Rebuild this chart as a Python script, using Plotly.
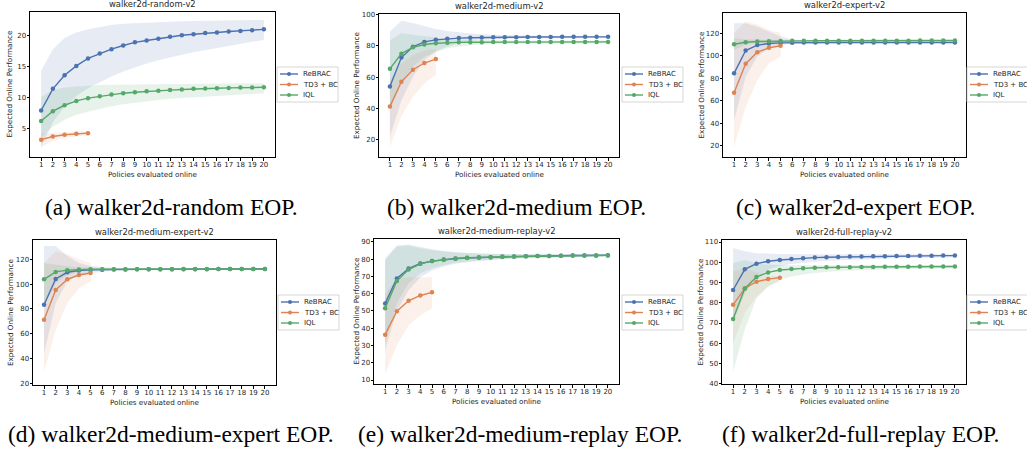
import plotly.graph_objects as go

W, H = 1027, 451

steps = list(range(1, 21))
steps_td3 = list(range(1, 6))
tick_labels = [str(s) for s in steps]
series_names = ["ReBRAC", "TD3 + BC", "IQL"]

# ---------------- walker2d-random-v2 ----------------
random_rebrac_mean = [7.9, 11.4, 13.6, 15.1, 16.3, 17.1, 17.8, 18.4, 18.9, 19.2, 19.5, 19.8, 20.05, 20.2, 20.4, 20.5, 20.65, 20.75, 20.85, 21.0]
random_rebrac_upper = [14.3, 17.8, 19.6, 20.5, 21.0, 21.4, 21.7, 21.9, 22.0, 22.1, 22.2, 22.25, 22.3, 22.35, 22.4, 22.4, 22.45, 22.45, 22.5, 22.5]
random_rebrac_lower = [2.0, 6.0, 8.5, 10.2, 11.5, 12.5, 13.4, 14.2, 14.9, 15.5, 16.0, 16.5, 16.9, 17.3, 17.7, 18.0, 18.3, 18.6, 19.0, 19.3]
random_td3_mean = [3.2, 3.7, 4.0, 4.15, 4.25]
random_td3_upper = [4.2, 4.3, 4.5, 4.6, 4.6]
random_td3_lower = [2.0, 3.0, 3.5, 3.75, 3.9]
random_iql_mean = [6.2, 7.8, 8.75, 9.45, 9.9, 10.2, 10.5, 10.7, 10.85, 11.0, 11.1, 11.2, 11.3, 11.4, 11.45, 11.5, 11.55, 11.6, 11.62, 11.65]
random_iql_upper = [10.1, 11.2, 11.6, 11.8, 11.9, 12.0, 12.05, 12.1, 12.1, 12.15, 12.15, 12.2, 12.2, 12.2, 12.25, 12.25, 12.25, 12.3, 12.3, 12.3]
random_iql_lower = [3.6, 5.3, 6.4, 7.2, 7.7, 8.2, 8.6, 8.9, 9.2, 9.4, 9.6, 9.8, 9.95, 10.1, 10.2, 10.3, 10.4, 10.5, 10.6, 10.7]

# ---------------- walker2d-medium-v2 ----------------
medium_rebrac_mean = [54.0, 72.5, 79.4, 82.5, 83.8, 84.5, 84.9, 85.1, 85.3, 85.4, 85.5, 85.5, 85.6, 85.6, 85.6, 85.7, 85.7, 85.7, 85.7, 85.7]
medium_rebrac_upper = [89.0, 96.0, 94.5, 92.5, 90.8, 89.5, 88.5, 87.8, 87.3, 87.0, 86.8, 86.6, 86.5, 86.4, 86.3, 86.3, 86.2, 86.2, 86.2, 86.2]
medium_rebrac_lower = [22.0, 45.0, 60.0, 71.0, 76.5, 79.5, 81.5, 83.0, 83.7, 84.1, 84.4, 84.6, 84.7, 84.8, 84.8, 84.9, 84.9, 85.0, 85.0, 85.0]
medium_td3_mean = [41.3, 57.0, 64.7, 69.0, 71.5]
medium_td3_upper = [58.0, 69.0, 74.0, 77.0, 78.0]
medium_td3_lower = [15.5, 35.0, 47.5, 56.0, 61.5]
medium_iql_mean = [65.3, 75.0, 79.0, 80.8, 81.6, 82.0, 82.2, 82.3, 82.3, 82.4, 82.4, 82.4, 82.4, 82.5, 82.5, 82.5, 82.5, 82.5, 82.5, 82.5]
medium_iql_upper = [83.6, 88.0, 87.0, 86.0, 85.0, 84.3, 83.9, 83.7, 83.6, 83.5, 83.5, 83.4, 83.4, 83.4, 83.4, 83.4, 83.4, 83.4, 83.4, 83.4]
medium_iql_lower = [39.0, 56.0, 67.0, 73.0, 76.0, 78.3, 79.5, 80.4, 80.8, 81.1, 81.3, 81.4, 81.5, 81.5, 81.6, 81.6, 81.6, 81.7, 81.7, 81.7]

# ---------------- walker2d-expert-v2 ----------------
expert_rebrac_mean = [84.5, 104.8, 109.6, 111.0, 111.6, 111.8, 111.9, 112.0, 112.0, 112.0, 112.0, 112.0, 112.0, 112.0, 112.0, 112.0, 112.0, 112.0, 112.0, 112.0]
expert_rebrac_upper = [129.0, 129.0, 126.0, 122.0, 117.5, 114.5, 113.5, 113.0, 112.8, 112.7, 112.6, 112.6, 112.6, 112.5, 112.5, 112.5, 112.5, 112.5, 112.5, 112.5]
expert_rebrac_lower = [42.7, 81.5, 99.4, 107.0, 110.0, 110.8, 111.1, 111.3, 111.4, 111.4, 111.5, 111.5, 111.5, 111.5, 111.5, 111.5, 111.5, 111.5, 111.5, 111.5]
expert_td3_mean = [67.2, 93.1, 103.3, 107.2, 109.0]
expert_td3_upper = [120.3, 130.7, 128.0, 123.0, 120.3]
expert_td3_lower = [19.0, 54.6, 78.5, 93.4, 99.4]
expert_iql_mean = [110.4, 112.2, 112.8, 113.1, 113.3, 113.4, 113.4, 113.5, 113.5, 113.5, 113.5, 113.6, 113.6, 113.6, 113.6, 113.6, 113.7, 113.7, 113.7, 113.7]
expert_iql_upper = [115.8, 114.8, 114.5, 114.4, 114.4, 114.4, 114.4, 114.4, 114.4, 114.4, 114.4, 114.4, 114.4, 114.4, 114.4, 114.5, 114.5, 114.5, 114.5, 114.5]
expert_iql_lower = [105.5, 109.6, 111.0, 111.8, 112.2, 112.5, 112.6, 112.7, 112.7, 112.8, 112.8, 112.8, 112.8, 112.8, 112.9, 112.9, 112.9, 112.9, 112.9, 112.9]

# ---------------- walker2d-medium-expert-v2 ----------------
mexp_rebrac_mean = [83.4, 104.1, 109.5, 110.9, 111.4, 111.6, 111.7, 111.8, 111.9, 111.9, 112.0, 112.0, 112.0, 112.0, 112.0, 112.1, 112.1, 112.1, 112.2, 112.2]
mexp_rebrac_upper = [130.6, 130.6, 122.6, 117.0, 114.5, 113.5, 113.1, 112.9, 112.8, 112.8, 112.7, 112.7, 112.7, 112.7, 112.7, 112.7, 112.7, 112.7, 112.7, 112.7]
mexp_rebrac_lower = [44.0, 84.5, 102.0, 107.3, 109.0, 110.2, 110.8, 111.1, 111.3, 111.4, 111.5, 111.5, 111.6, 111.6, 111.6, 111.7, 111.7, 111.7, 111.7, 111.7]
mexp_td3_mean = [71.3, 95.2, 103.8, 107.3, 108.9]
mexp_td3_upper = [117.0, 126.5, 124.0, 120.0, 117.0]
mexp_td3_lower = [29.4, 63.0, 84.5, 96.6, 102.0]
mexp_iql_mean = [103.8, 109.8, 111.2, 111.7, 111.9, 112.0, 112.0, 112.0, 112.0, 112.0, 112.0, 112.0, 112.1, 112.1, 112.1, 112.1, 112.1, 112.1, 112.1, 112.1]
mexp_iql_upper = [117.0, 115.6, 114.3, 113.5, 113.1, 112.9, 112.8, 112.7, 112.7, 112.7, 112.7, 112.7, 112.7, 112.7, 112.7, 112.7, 112.7, 112.7, 112.7, 112.7]
mexp_iql_lower = [82.0, 100.6, 107.3, 109.8, 110.8, 111.2, 111.4, 111.5, 111.6, 111.6, 111.6, 111.7, 111.7, 111.7, 111.7, 111.7, 111.7, 111.7, 111.7, 111.7]

# ---------------- walker2d-medium-replay-v2 ----------------
mrep_rebrac_mean = [54.4, 68.8, 74.6, 77.5, 78.9, 79.8, 80.4, 80.8, 81.0, 81.2, 81.4, 81.6, 81.7, 81.8, 81.9, 82.0, 82.1, 82.2, 82.2, 82.3]
mrep_rebrac_upper = [80.5, 88.0, 88.5, 87.0, 85.8, 84.8, 84.1, 83.6, 83.3, 83.1, 83.0, 82.9, 82.9, 82.9, 82.9, 82.9, 82.9, 82.9, 82.9, 82.9]
mrep_rebrac_lower = [27.2, 50.0, 62.0, 69.5, 73.5, 75.8, 77.3, 78.3, 79.0, 79.5, 79.9, 80.2, 80.5, 80.7, 80.9, 81.1, 81.2, 81.4, 81.5, 81.6]
mrep_td3_mean = [36.3, 49.9, 55.9, 59.0, 60.8]
mrep_td3_upper = [60.0, 69.0, 69.5, 69.5, 69.5]
mrep_td3_lower = [13.6, 30.1, 41.8, 47.6, 51.5]
mrep_iql_mean = [51.6, 67.4, 74.0, 77.3, 78.9, 79.7, 80.3, 80.7, 81.0, 81.2, 81.4, 81.6, 81.7, 81.8, 81.9, 82.0, 82.1, 82.1, 82.2, 82.2]
mrep_iql_upper = [79.5, 87.3, 87.9, 86.3, 85.4, 84.4, 83.9, 83.5, 83.2, 83.0, 82.9, 82.9, 82.8, 82.8, 82.8, 82.8, 82.8, 82.8, 82.8, 82.8]
mrep_iql_lower = [31.0, 54.4, 66.0, 71.9, 74.8, 76.7, 77.9, 78.7, 79.4, 79.8, 80.2, 80.6, 80.8, 81.0, 81.1, 81.3, 81.4, 81.5, 81.6, 81.6]

# ---------------- walker2d-full-replay-v2 ----------------
frep_rebrac_mean = [86.3, 96.5, 99.3, 100.5, 101.1, 101.6, 102.0, 102.3, 102.5, 102.6, 102.8, 102.9, 103.0, 103.0, 103.1, 103.1, 103.2, 103.2, 103.3, 103.3]
frep_rebrac_upper = [107.0, 105.4, 104.5, 104.2, 104.1, 104.0, 104.0, 104.0, 104.0, 104.0, 104.0, 104.0, 104.0, 104.0, 104.0, 104.0, 104.0, 104.0, 104.0, 104.0]
frep_rebrac_lower = [70.0, 84.8, 92.2, 96.3, 98.2, 99.2, 99.8, 100.3, 100.7, 101.0, 101.3, 101.5, 101.7, 101.8, 102.0, 102.1, 102.2, 102.3, 102.4, 102.4]
frep_td3_mean = [79.0, 87.1, 90.4, 91.7, 92.4]
frep_td3_upper = [95.5, 97.0, 95.0, 93.5, 93.0]
frep_td3_lower = [60.0, 74.9, 83.1, 88.0, 90.5]
frep_iql_mean = [72.0, 87.1, 92.7, 95.0, 96.2, 96.7, 97.0, 97.3, 97.5, 97.6, 97.6, 97.7, 97.7, 97.8, 97.8, 97.8, 97.9, 97.9, 97.9, 97.9]
frep_iql_upper = [99.5, 101.1, 99.5, 98.8, 98.6, 98.5, 98.5, 98.5, 98.5, 98.6, 98.6, 98.6, 98.6, 98.6, 98.6, 98.7, 98.7, 98.7, 98.7, 98.7]
frep_iql_lower = [46.0, 66.7, 82.3, 88.0, 91.3, 93.0, 94.0, 94.7, 95.3, 95.7, 96.0, 96.2, 96.4, 96.5, 96.6, 96.7, 96.8, 96.9, 97.0, 97.0]

titles = ["walker2d-random-v2", "walker2d-medium-v2", "walker2d-expert-v2",
          "walker2d-medium-expert-v2", "walker2d-medium-replay-v2", "walker2d-full-replay-v2"]
captions = ["(a) walker2d-random EOP.", "(b) walker2d-medium EOP.", "(c) walker2d-expert EOP.",
            "(d) walker2d-medium-expert EOP.", "(e) walker2d-medium-replay EOP.", "(f) walker2d-full-replay EOP."]
y_ranges = [[0.4, 23.8], [9.0, 100.3], [10.0, 138.2], [18.7, 135.5], [7.7, 91.7], [39.9, 111.0]]
y_ticks = [[5, 10, 15, 20], [20, 40, 60, 80, 100], [20, 40, 60, 80, 100, 120],
           [20, 40, 60, 80, 100, 120], [10, 20, 30, 40, 50, 60, 70, 80, 90],
           [40, 50, 60, 70, 80, 90, 100, 110]]

panel_series = [
    [(random_rebrac_mean, random_rebrac_lower, random_rebrac_upper),
     (random_td3_mean, random_td3_lower, random_td3_upper),
     (random_iql_mean, random_iql_lower, random_iql_upper)],
    [(medium_rebrac_mean, medium_rebrac_lower, medium_rebrac_upper),
     (medium_td3_mean, medium_td3_lower, medium_td3_upper),
     (medium_iql_mean, medium_iql_lower, medium_iql_upper)],
    [(expert_rebrac_mean, expert_rebrac_lower, expert_rebrac_upper),
     (expert_td3_mean, expert_td3_lower, expert_td3_upper),
     (expert_iql_mean, expert_iql_lower, expert_iql_upper)],
    [(mexp_rebrac_mean, mexp_rebrac_lower, mexp_rebrac_upper),
     (mexp_td3_mean, mexp_td3_lower, mexp_td3_upper),
     (mexp_iql_mean, mexp_iql_lower, mexp_iql_upper)],
    [(mrep_rebrac_mean, mrep_rebrac_lower, mrep_rebrac_upper),
     (mrep_td3_mean, mrep_td3_lower, mrep_td3_upper),
     (mrep_iql_mean, mrep_iql_lower, mrep_iql_upper)],
    [(frep_rebrac_mean, frep_rebrac_lower, frep_rebrac_upper),
     (frep_td3_mean, frep_td3_lower, frep_td3_upper),
     (frep_iql_mean, frep_iql_lower, frep_iql_upper)],
]

# ---------------- styling / layout constants ----------------
COLORS = ["#4C72B0", "#DD8452", "#55A868"]
BANDS = ["rgba(76,114,176,0.14)", "rgba(221,132,82,0.12)", "rgba(85,168,104,0.14)"]
FONT = "DejaVu Sans"
TXT = "#262626"

# axes boxes in pixels: left, top, right, bottom
boxes = [(30, 12, 275, 157), (379, 14, 619, 157), (723, 13, 966, 157),
         (33, 240, 276, 385), (374, 239, 619, 384), (722, 240, 966, 384)]
legend_pos = [(277, 67), (622, 67), (967, 67), (278, 295), (622, 295), (967, 295)]
caption_pos = [(171, 207), (516, 207), (855, 207), (171, 434), (520, 434), (860, 434)]
ylabel_off = [12, 13.5, 13.5, 13.5, 9, 13.5]


def fx(p):
    return p / W


def fy(p):
    return 1 - p / H


fig = go.Figure()
annotations = []
shapes = []

for i in range(6):
    ax = "" if i == 0 else str(i + 1)
    xa, ya = "x" + ax, "y" + ax
    left, top, right, bottom = boxes[i]
    for k, (mean, lo, hi) in enumerate(panel_series[i]):
        xs = steps if k != 1 else steps_td3
        fig.add_trace(go.Scatter(
            x=list(xs) + list(xs)[::-1], y=list(hi) + list(lo)[::-1],
            fill="toself", fillcolor=BANDS[k], line=dict(width=0),
            mode="lines", hoverinfo="skip", showlegend=False,
            xaxis=xa, yaxis=ya))
    for k, (mean, lo, hi) in enumerate(panel_series[i]):
        xs = steps if k != 1 else steps_td3
        fig.add_trace(go.Scatter(
            x=xs, y=mean, mode="lines+markers", name=series_names[k],
            line=dict(color=COLORS[k], width=1.4),
            marker=dict(color=COLORS[k], size=4.5),
            showlegend=False, xaxis=xa, yaxis=ya))

    axis_common = dict(showline=True, mirror=True, linecolor="black", linewidth=1,
                       ticks="outside", ticklen=2.5, tickwidth=0.8, tickcolor="black",
                       showgrid=False, zeroline=False,
                       tickfont=dict(family=FONT, size=7, color=TXT))
    fig.layout["xaxis" + ax] = dict(
        domain=[fx(left), fx(right)], anchor=ya, range=[0.05, 20.95],
        tickvals=steps, ticktext=tick_labels, ticklabelstandoff=-2, **axis_common)
    fig.layout["yaxis" + ax] = dict(
        domain=[fy(bottom), fy(top)], anchor=xa, range=y_ranges[i],
        tickvals=y_ticks[i], ticklabelstandoff=-1, **axis_common)

    cx = (left + right) / 2
    annotations.append(dict(text=titles[i], x=fx(cx), y=fy(top - 1), xref="paper", yref="paper",
                            xanchor="center", yanchor="bottom", showarrow=False,
                            font=dict(family=FONT, size=8.4, color=TXT)))
    annotations.append(dict(text="Policies evaluated online", x=fx(cx), y=fy(bottom + 17.5),
                            xref="paper", yref="paper", xanchor="center", yanchor="middle",
                            showarrow=False, font=dict(family=FONT, size=7.2, color=TXT)))
    annotations.append(dict(text="Expected Online Performance", x=fx(left - ylabel_off[i] - 9),
                            y=fy((top + bottom) / 2), xref="paper", yref="paper",
                            xanchor="center", yanchor="middle", textangle=-90, showarrow=False,
                            font=dict(family=FONT, size=7.2, color=TXT)))
    cxp, cyp = caption_pos[i]
    annotations.append(dict(text=captions[i], x=fx(cxp), y=fy(cyp), xref="paper", yref="paper",
                            xanchor="center", yanchor="middle", showarrow=False,
                            font=dict(family="Liberation Serif", size=23.5, color="black")))

    # legend box (drawn like a matplotlib legend)
    lx, ly = legend_pos[i]
    lw, lh = 61, 35
    shapes.append(dict(type="rect", xref="paper", yref="paper",
                       x0=fx(lx), x1=fx(lx + lw), y0=fy(ly + lh), y1=fy(ly),
                       line=dict(color="#cccccc", width=0.8), fillcolor="white", layer="above"))
    for k in range(3):
        ry = ly + 7 + k * 10.5
        shapes.append(dict(type="line", xref="paper", yref="paper",
                           x0=fx(lx + 3), x1=fx(lx + 21), y0=fy(ry), y1=fy(ry),
                           line=dict(color=COLORS[k], width=1.4), layer="above"))
        shapes.append(dict(type="circle", xref="paper", yref="paper",
                           x0=fx(lx + 10), x1=fx(lx + 14), y0=fy(ry + 2), y1=fy(ry - 2),
                           line=dict(color=COLORS[k], width=0), fillcolor=COLORS[k], layer="above"))
        annotations.append(dict(text=series_names[k], x=fx(lx + 24), y=fy(ry), xref="paper",
                                yref="paper", xanchor="left", yanchor="middle", showarrow=False,
                                font=dict(family=FONT, size=7, color=TXT)))

fig.update_layout(
    width=W, height=H, margin=dict(l=0, r=0, t=0, b=0, autoexpand=False),
    paper_bgcolor="white", plot_bgcolor="white",
    showlegend=False, annotations=annotations, shapes=shapes,
)

fig.write_html("out.html")
